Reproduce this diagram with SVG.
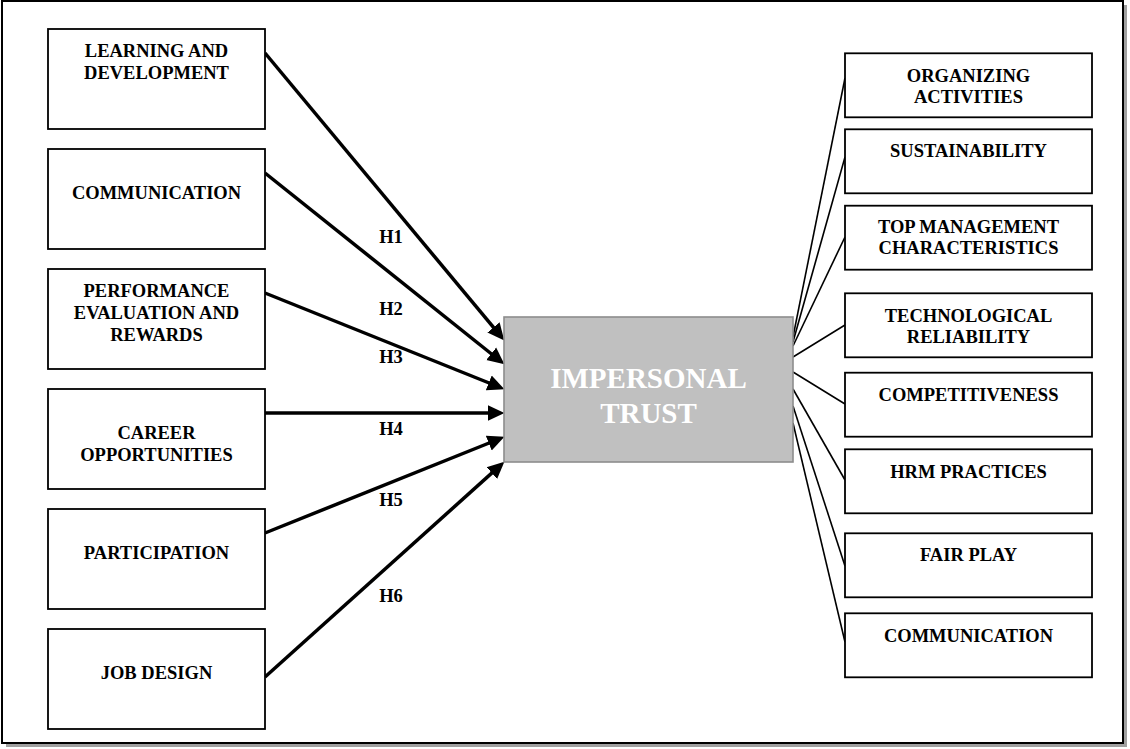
<svg xmlns="http://www.w3.org/2000/svg" width="1130" height="749" viewBox="0 0 1130 749">
<style>
.box{fill:#fff;stroke:#000;stroke-width:1.8}
.t{font-family:"Liberation Serif","Times New Roman",serif;font-weight:bold;font-size:18.5px;fill:#000;text-anchor:middle}
.center{fill:#c0c0c0;stroke:#8c8c8c;stroke-width:1.6}
.ct{font-family:"Liberation Serif","Times New Roman",serif;font-weight:bold;font-size:29px;fill:#fff;text-anchor:middle}
.arrow{stroke:#000;stroke-width:3.5;fill:none;marker-end:url(#ah)}
.link{stroke:#000;stroke-width:1.6;fill:none}
</style>
<defs>
<marker id="ah" markerUnits="userSpaceOnUse" markerWidth="18" markerHeight="18" viewBox="0 -8 17 16" refX="8" refY="0" orient="auto">
<path d="M0,-7.5 L16,0 L0,7.5 z" fill="#000"/>
</marker>
</defs>
<rect x="0" y="0" width="1130" height="749" fill="#fff"/>
<rect x="6" y="5" width="1121" height="742" fill="#a0a0a0"/>
<rect x="2" y="1" width="1121" height="742" fill="#fff" stroke="#000" stroke-width="2"/>

<g id="connectors">
<line class="arrow" x1="265" y1="53" x2="498.9" y2="333.9"/>
<line class="arrow" x1="265" y1="173" x2="497.8" y2="359"/>
<line class="arrow" x1="265" y1="293" x2="496.6" y2="386"/>
<line class="arrow" x1="265" y1="413" x2="496" y2="413"/>
<line class="arrow" x1="265" y1="533" x2="496.6" y2="440"/>
<line class="arrow" x1="265" y1="677" x2="498.1" y2="467.4"/>
<line class="link" x1="793" y1="337" x2="845" y2="78"/>
<line class="link" x1="793" y1="342" x2="845" y2="157"/>
<line class="link" x1="793" y1="346" x2="845" y2="237"/>
<line class="link" x1="793" y1="357" x2="845" y2="325"/>
<line class="link" x1="793" y1="372" x2="845" y2="404"/>
<line class="link" x1="793" y1="389" x2="845" y2="480"/>
<line class="link" x1="793" y1="406" x2="845" y2="566"/>
<line class="link" x1="793" y1="423" x2="845" y2="642"/>
<text class="t" x="391" y="242.7">H1</text>
<text class="t" x="391" y="315.3">H2</text>
<text class="t" x="391" y="362.7">H3</text>
<text class="t" x="391" y="435">H4</text>
<text class="t" x="391" y="506">H5</text>
<text class="t" x="391" y="602.3">H6</text>
</g>

<g id="learning">
<rect class="box" x="48" y="29" width="217" height="100"/>
<text class="t" x="156.5" y="57.3">LEARNING AND</text>
<text class="t" x="156.5" y="79">DEVELOPMENT</text>
</g>
<g id="communication-left">
<rect class="box" x="48" y="149" width="217" height="100"/>
<text class="t" x="156.5" y="199">COMMUNICATION</text>
</g>
<g id="performance">
<rect class="box" x="48" y="269" width="217" height="100"/>
<text class="t" x="156.5" y="297.3">PERFORMANCE</text>
<text class="t" x="156.5" y="319">EVALUATION AND</text>
<text class="t" x="156.5" y="340.5">REWARDS</text>
</g>
<g id="career">
<rect class="box" x="48" y="389" width="217" height="100"/>
<text class="t" x="156.5" y="439">CAREER</text>
<text class="t" x="156.5" y="461">OPPORTUNITIES</text>
</g>
<g id="participation">
<rect class="box" x="48" y="509" width="217" height="100"/>
<text class="t" x="156.5" y="559">PARTICIPATION</text>
</g>
<g id="jobdesign">
<rect class="box" x="48" y="629" width="217" height="100"/>
<text class="t" x="156.5" y="679">JOB DESIGN</text>
</g>

<g id="impersonal-trust">
<rect class="center" x="504" y="317" width="289" height="145"/>
<text class="ct" x="648.5" y="388">IMPERSONAL</text>
<text class="ct" x="648.5" y="422.7">TRUST</text>
</g>

<g id="organizing">
<rect class="box" x="845" y="53.3" width="247" height="64"/>
<text class="t" x="968.5" y="81.7">ORGANIZING</text>
<text class="t" x="968.5" y="103.3">ACTIVITIES</text>
</g>
<g id="sustainability">
<rect class="box" x="845" y="129.3" width="247" height="64"/>
<text class="t" x="968.5" y="156.7">SUSTAINABILITY</text>
</g>
<g id="topmanagement">
<rect class="box" x="845" y="205.7" width="247" height="64"/>
<text class="t" x="968.5" y="233.3">TOP MANAGEMENT</text>
<text class="t" x="968.5" y="254.3">CHARACTERISTICS</text>
</g>
<g id="technological">
<rect class="box" x="845" y="293.3" width="247" height="64"/>
<text class="t" x="968.5" y="321.7">TECHNOLOGICAL</text>
<text class="t" x="968.5" y="342.7">RELIABILITY</text>
</g>
<g id="competitiveness">
<rect class="box" x="845" y="372.7" width="247" height="64"/>
<text class="t" x="968.5" y="401">COMPETITIVENESS</text>
</g>
<g id="hrm">
<rect class="box" x="845" y="449.3" width="247" height="64"/>
<text class="t" x="968.5" y="478.3">HRM PRACTICES</text>
</g>
<g id="fairplay">
<rect class="box" x="845" y="533.3" width="247" height="64"/>
<text class="t" x="968.5" y="561">FAIR PLAY</text>
</g>
<g id="communication-right">
<rect class="box" x="845" y="613.3" width="247" height="64"/>
<text class="t" x="968.5" y="641.7">COMMUNICATION</text>
</g>
</svg>
